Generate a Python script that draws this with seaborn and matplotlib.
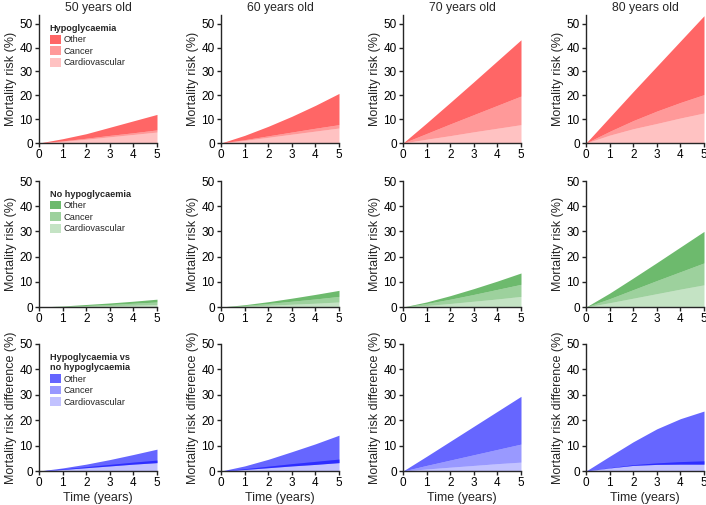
import numpy as np
import pandas as pd
import matplotlib
matplotlib.use("Agg")
import matplotlib.pyplot as plt
from matplotlib.patches import Patch
import seaborn as sns

# ========== data ==========
years = [0, 1, 2, 3, 4, 5]
ages = ["50 years old", "60 years old", "70 years old", "80 years old"]

# Hypoglycaemia: per-cause cumulative mortality (%)
hypo_cardio = [[0, 0.7, 1.6, 2.6, 3.6, 4.6],
               [0, 1.1, 2.4, 3.7, 5.0, 6.3],
               [0, 1.6, 3.1, 4.7, 6.2, 7.7],
               [0, 3.3, 6.0, 8.2, 10.5, 12.6]]
hypo_cancer = [[0, 0.2, 0.4, 0.6, 0.7, 0.9],
               [0, 0.3, 0.6, 0.9, 1.2, 1.4],
               [0, 2.4, 4.9, 7.2, 9.6, 12.0],
               [0, 1.6, 3.4, 5.2, 6.5, 7.7]]
hypo_other = [[0, 0.9, 1.9, 3.4, 5.0, 6.5],
              [0, 1.8, 4.0, 6.6, 9.6, 13.1],
              [0, 4.4, 9.0, 13.8, 18.7, 23.6],
              [0, 5.9, 12.2, 18.8, 25.8, 33.1]]

# No hypoglycaemia
nohypo_cardio = [[0, 0.1, 0.3, 0.5, 0.7, 1.0],
                 [0, 0.3, 0.7, 1.1, 1.5, 2.0],
                 [0, 0.6, 1.4, 2.3, 3.2, 4.2],
                 [0, 1.7, 3.5, 5.3, 7.1, 8.8]]
nohypo_cancer = [[0, 0.2, 0.3, 0.5, 0.8, 1.0],
                 [0, 0.3, 0.7, 1.2, 1.7, 2.2],
                 [0, 0.8, 1.7, 2.7, 3.8, 4.8],
                 [0, 1.6, 3.4, 5.2, 6.9, 8.7]]
nohypo_other = [[0, 0.1, 0.4, 0.6, 0.8, 1.1],
                [0, 0.3, 0.7, 1.2, 1.8, 2.4],
                [0, 0.6, 1.4, 2.3, 3.3, 4.5],
                [0, 2.2, 4.6, 7.1, 9.8, 12.5]]

# Difference (hypo - no hypo); cancer can be negative
diff_cardio = [[0, 0.8, 1.7, 2.6, 3.5, 4.3],
               [0, 0.9, 1.9, 2.9, 3.8, 4.7],
               [0, 0.8, 1.5, 2.2, 2.9, 3.5],
               [0, 1.3, 2.5, 3.2, 3.7, 4.0]]
diff_cancer = [[0, -0.2, -0.4, -0.6, -0.8, -1.0],
               [0, -0.3, -0.6, -0.9, -1.2, -1.4],
               [0, 1.4, 2.8, 4.2, 5.6, 7.1],
               [0, -0.1, -0.3, -0.6, -1.0, -1.3]]
diff_other = [[0, 0.6, 1.4, 2.5, 3.8, 5.3],
              [0, 1.4, 3.3, 5.6, 8.1, 10.8],
              [0, 3.6, 7.4, 11.2, 15.0, 18.8],
              [0, 4.6, 9.3, 14.0, 17.9, 20.9]]

causes = ["Cardiovascular", "Cancer", "Other"]
group_titles = ["Hypoglycaemia", "No hypoglycaemia", "Hypoglycaemia vs\nno hypoglycaemia"]
ylabels = ["Mortality risk (%)", "Mortality risk (%)", "Mortality risk difference (%)"]

rows = [(hypo_cardio, hypo_cancer, hypo_other),
        (nohypo_cardio, nohypo_cancer, nohypo_other),
        (diff_cardio, diff_cancer, diff_other)]

# ========== style ==========
sns.set_style("ticks")
plt.rcParams['font.family'] = ['Liberation Sans', 'DejaVu Sans']
plt.rcParams['axes.linewidth'] = 1.0
plt.rcParams['xtick.major.size'] = 3
plt.rcParams['ytick.major.size'] = 3
plt.rcParams['xtick.major.pad'] = 1.5
plt.rcParams['ytick.major.pad'] = 1.5

base_colors = ["#ff0000", "#0c8c0c", "#0000ff"]
alphas = {"Cardiovascular": 0.24, "Cancer": 0.40, "Other": 0.60}

W, H = 706, 505
fig = plt.figure(figsize=(W / 100, H / 100), dpi=100)

col_left = [39, 221, 403, 586]
ax_w = 118
row_box = [(15, 143), (181, 307), (344, 471)]
row_ymax = [53.7, 50, 50]

for r, (cardio, cancer, other) in enumerate(rows):
    top, bot = row_box[r]
    for c in range(4):
        ax = fig.add_axes([col_left[c] / W, 1 - bot / H, ax_w / W, (bot - top) / H])
        df = pd.DataFrame({"year": years, "Cardiovascular": cardio[c],
                           "Cancer": cancer[c], "Other": other[c]})
        lower = np.zeros(len(df))
        for cause in causes:
            upper = lower + df[cause].to_numpy()
            ax.fill_between(df["year"], lower, upper, color=base_colors[r],
                            alpha=alphas[cause], linewidth=0)
            lower = upper
        ax.set_xlim(0, 5)
        ax.set_ylim(0, row_ymax[r])
        ax.set_xticks(range(0, 6))
        ax.set_yticks(range(0, 51, 10))
        ax.tick_params(labelsize=8.5, width=1, colors="#222222", labelcolor="black")
        ax.set_ylabel(ylabels[r], fontsize=9, labelpad=2)
        if r == 0:
            ax.set_title(ages[c], fontsize=8.8, pad=3)
        if r == 2:
            ax.set_xlabel("Time (years)", fontsize=9, labelpad=2)
        sns.despine(ax=ax)
        if c == 0:
            handles = [Patch(facecolor=base_colors[r], alpha=alphas[k], linewidth=0)
                       for k in ["Other", "Cancer", "Cardiovascular"]]
            leg = ax.legend(handles, ["Other", "Cancer", "Cardiovascular"],
                            title=group_titles[r], loc="upper left",
                            bbox_to_anchor=(0.06, 0.96), frameon=False,
                            fontsize=6.7, title_fontsize=6.6,
                            handlelength=1.15, handleheight=1.05,
                            handletextpad=0.35, labelspacing=0.22,
                            borderpad=0.2, borderaxespad=0.2)
            leg.get_title().set_fontweight("bold")
            leg._legend_box.align = "left"

fig.savefig("out.png", dpi=100)
